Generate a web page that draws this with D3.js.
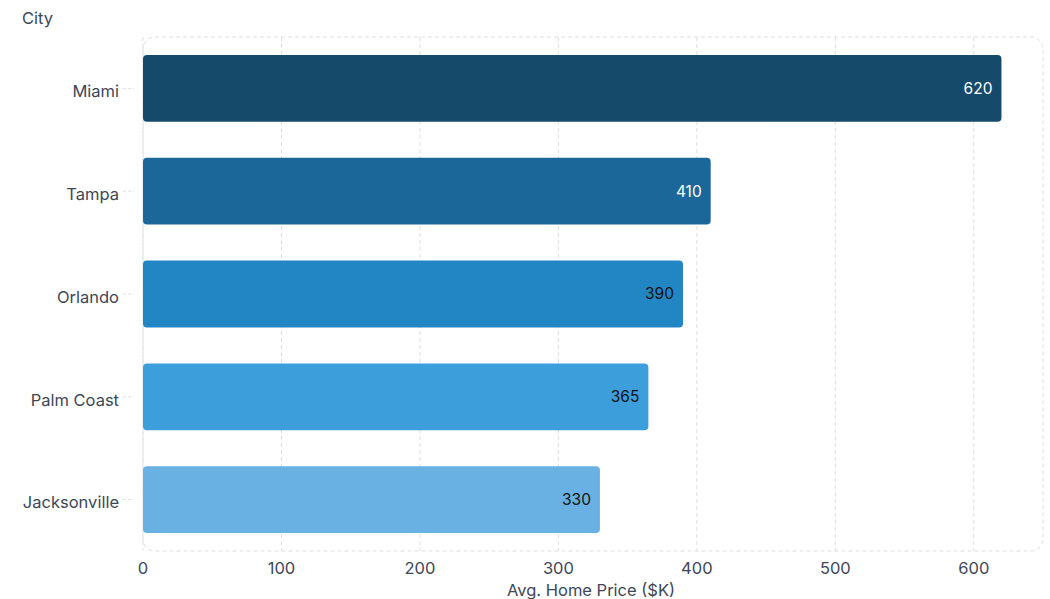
<!DOCTYPE html>
<html>
<head>
<meta charset="utf-8">
<script src="https://cdn.jsdelivr.net/npm/d3@7"></script>
<style>
  body { margin: 0; background: #fff; }
  svg text { font-family: Inter, "Noto Sans", sans-serif; }
</style>
</head>
<body>
<div id="chart"></div>
<script>
// chart data
const cities = ["Miami", "Tampa", "Orlando", "Palm Coast", "Jacksonville"];
const prices = [620, 410, 390, 365, 330];
const barColors = ["#164a6b", "#1c6799", "#2286c4", "#3d9edc", "#69b1e2"];
const labelColors = ["#ffffff", "#ffffff", "#111111", "#111111", "#111111"];
const xTicks = [0, 100, 200, 300, 400, 500, 600];

const width = 1050, height = 599;
const margin = { top: 37, right: 7, bottom: 48, left: 143 };
const innerW = width - margin.left - margin.right,
      innerH = height - margin.top - margin.bottom;

const svg = d3.select("#chart").append("svg")
  .attr("width", width)
  .attr("height", height);

const g = svg.append("g")
  .attr("transform", `translate(${margin.left},${margin.top})`);

const x = d3.scaleLinear().domain([0, 650]).range([0, innerW]);
const y = d3.scaleBand().domain(cities).range([0, innerH]).paddingInner(0.35).paddingOuter(0.175);

// vertical grid
g.selectAll(".grid")
  .data(xTicks)
  .enter().append("line")
  .attr("x1", d => x(d)).attr("x2", d => x(d))
  .attr("y1", 0).attr("y2", innerH)
  .attr("stroke", "#dedede")
  .attr("stroke-dasharray", "4,3");

// plot frame
g.append("rect")
  .attr("x", 0).attr("y", 0)
  .attr("width", innerW).attr("height", innerH)
  .attr("rx", 12)
  .attr("fill", "none")
  .attr("stroke", "#dedede")
  .attr("stroke-dasharray", "4,3");

// y tick marks
g.selectAll(".ytick")
  .data(cities)
  .enter().append("line")
  .attr("x1", -20).attr("x2", -9)
  .attr("y1", d => y(d) + y.bandwidth() / 2)
  .attr("y2", d => y(d) + y.bandwidth() / 2)
  .attr("stroke", "#dedede")
  .attr("stroke-dasharray", "3,2");

// bars
g.selectAll(".bar")
  .data(cities)
  .enter().append("rect")
  .attr("x", x(0))
  .attr("y", d => y(d))
  .attr("width", (d, i) => x(prices[i]) - x(0))
  .attr("height", y.bandwidth())
  .attr("rx", 4)
  .attr("fill", (d, i) => barColors[i]);

// value labels
g.selectAll(".val")
  .data(cities)
  .enter().append("text")
  .attr("x", (d, i) => x(prices[i]) - 9)
  .attr("y", d => y(d) + y.bandwidth() / 2)
  .attr("dy", "0.35em")
  .attr("text-anchor", "end")
  .attr("font-size", 15.5)
  .attr("fill", (d, i) => labelColors[i])
  .text((d, i) => prices[i]);

// y labels
g.selectAll(".ylab")
  .data(cities)
  .enter().append("text")
  .attr("x", -24)
  .attr("y", d => y(d) + y.bandwidth() / 2 + 3)
  .attr("dy", "0.35em")
  .attr("text-anchor", "end")
  .attr("font-size", 16.5)
  .attr("fill", "#3d4757")
  .text(d => d);

// x labels
g.selectAll(".xlab")
  .data(xTicks)
  .enter().append("text")
  .attr("x", d => x(d))
  .attr("y", innerH + 17)
  .attr("dy", "0.35em")
  .attr("text-anchor", "middle")
  .attr("font-size", 16.5)
  .attr("fill", "#3d4757")
  .text(d => d);

// axis titles
svg.append("text")
  .attr("x", margin.left + innerW / 2 - 2)
  .attr("y", 590)
  .attr("dy", "0.35em")
  .attr("text-anchor", "middle")
  .attr("font-size", 16.5)
  .attr("fill", "#3d4757")
  .text("Avg. Home Price ($K)");

svg.append("text")
  .attr("x", 22)
  .attr("y", 18)
  .attr("dy", "0.35em")
  .attr("font-size", 16.5)
  .attr("fill", "#3d4757")
  .text("City");
</script>
</body>
</html>
